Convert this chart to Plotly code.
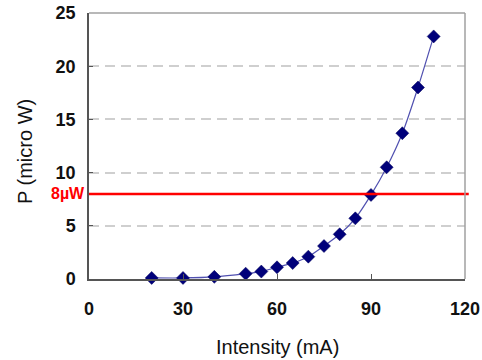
import plotly.graph_objects as go

intensity_mA = [20, 30, 40, 50, 55, 60, 65, 70, 75, 80, 85, 90, 95, 100, 105, 110]
power_uW = [0.1, 0.1, 0.2, 0.5, 0.7, 1.1, 1.5, 2.1, 3.1, 4.2, 5.7, 7.9, 10.5, 13.7, 18.0, 22.8]
threshold_uW = 8
threshold_label = "8µW"
x_ticks = [0, 30, 60, 90, 120]
y_ticks = [0, 5, 10, 15, 20, 25]
x_title = "Intensity (mA)"
y_title = "P (micro W)"

W, H = 482, 360
L, R, T, B = 89, 17, 13, 81

fig = go.Figure()
fig.add_trace(go.Scatter(
    x=intensity_mA, y=power_uW, mode="lines+markers",
    line=dict(color="#5050b0", width=1.2, shape="spline", smoothing=0.5),
    marker=dict(symbol="diamond", size=10, color="#00007a",
                line=dict(color="#00005a", width=0.5)),
    showlegend=False, cliponaxis=False, hoverinfo="skip",
))

# threshold line
fig.add_shape(type="line", xref="paper", yref="y", x0=0, x1=1.01,
              y0=threshold_uW, y1=threshold_uW,
              line=dict(color="#ff0000", width=2.5), layer="above")
fig.add_annotation(xref="paper", yref="y", x=-0.005, y=threshold_uW,
                   text=f"<b>{threshold_label}</b>", showarrow=False,
                   xanchor="right", yanchor="middle",
                   font=dict(family="Liberation Sans, Arial", size=16, color="#ff0000"))

# frame (top/right, lighter)
fig.add_shape(type="line", xref="paper", yref="paper", x0=0, x1=1, y0=1, y1=1,
              line=dict(color="#a0a0a0", width=1.5))
fig.add_shape(type="line", xref="paper", yref="paper", x0=1, x1=1, y0=0, y1=1,
              line=dict(color="#a0a0a0", width=1.5))

pw, ph = W - L - R, H - T - B
fig.add_annotation(xref="paper", yref="paper", x=(277 - L) / pw, y=(H - B - 347) / ph,
                   text=x_title, showarrow=False, xanchor="center", yanchor="middle",
                   font=dict(family="Liberation Sans, Arial", size=20, color="#111"))
fig.add_annotation(xref="paper", yref="paper", x=(25 - L) / pw, y=(H - B - 152) / ph,
                   text=y_title, showarrow=False, xanchor="center", yanchor="middle",
                   textangle=-90,
                   font=dict(family="Liberation Sans, Arial", size=20, color="#111"))

fig.update_layout(
    width=W, height=H,
    margin=dict(l=L, r=R, t=T, b=B, autoexpand=False),
    paper_bgcolor="white", plot_bgcolor="white",
    font=dict(family="Liberation Sans, Arial", color="black"),
    hovermode=False,
    xaxis=dict(
        range=[0, 120], tickvals=x_ticks, ticktext=[f"<b>{v}</b>" for v in x_ticks],
        tickfont=dict(size=18, color="#111"),
        showgrid=False, zeroline=False, automargin=False,
        showline=True, linecolor="#555", linewidth=1.5,
        ticks="inside", ticklen=5, tickcolor="#555",
        ticklabelstandoff=13,
    ),
    yaxis=dict(
        range=[0, 25], tickvals=y_ticks, ticktext=[f"<b>{v}</b>" for v in y_ticks],
        tickfont=dict(size=18, color="#111"),
        showgrid=True, gridcolor="#cfcfcf", gridwidth=2, griddash="10px,6px",
        zeroline=False, automargin=False,
        showline=True, linecolor="#555", linewidth=1.5,
        ticks="inside", ticklen=4, tickcolor="#555",
        ticklabelstandoff=8,
    ),
)

fig.write_html("out.html", config={"displayModeBar": False},
               post_script="document.body.style.margin='0';document.body.style.overflow='hidden';")
